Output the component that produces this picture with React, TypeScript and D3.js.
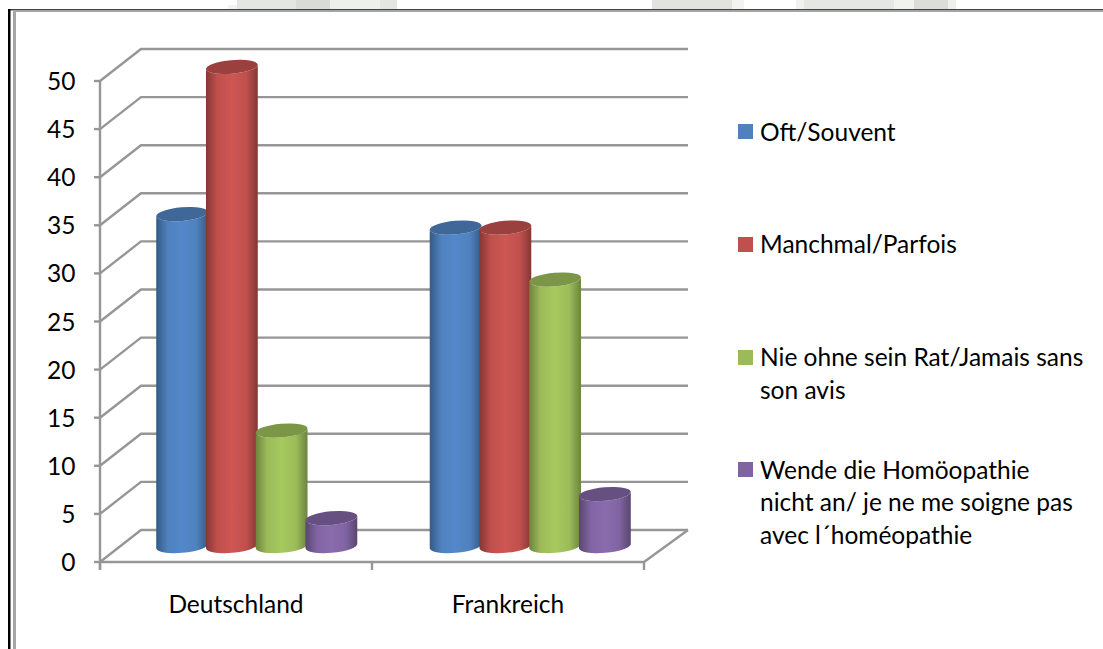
import React from "react";
import * as d3 from "d3";

const categories = ["Deutschland", "Frankreich"];
const seriesNames = ["Oft/Souvent", "Manchmal/Parfois", "Nie ohne sein Rat/Jamais sans son avis", "Wende die Homöopathie nicht an/ je ne me soigne pas avec l´homéopathie"];
const deutschland = [34.5, 49.8, 12, 2.9];
const frankreich = [33.1, 33.1, 27.7, 5.4];
const rowsByCategory = [deutschland, frankreich];
const yTicks = [0, 5, 10, 15, 20, 25, 30, 35, 40, 45, 50];
const baseColors = ["#4F81BD", "#C0504D", "#9BBB59", "#8064A2"];
const lightColors = ["#5288CB", "#CE5653", "#A6C95E", "#8A6CAE"];
const darkColors = ["#345A88", "#863634", "#6D843E", "#59466F"];
const topColors = ["#3F6797", "#9A403E", "#7C9647", "#665082"];
const legendLines = [["Oft/Souvent"], ["Manchmal/Parfois"], ["Nie ohne sein Rat/Jamais sans", "son avis"], ["Wende die Homöopathie", "nicht an/ je ne me soigne pas", "avec l´homéopathie"]];
const legendBaselines = [[140.5], [252.5], [365.5, 398.5], [478.5, 510.5, 543.5]];
const legendSwatchTops = [124, 237, 350, 462];
const smudges: [number, number, number, string][] = [
  [228, 9, 4, "#F3F4F1"], [237, 160, 9, "#E4E6E2"], [296, 34, 9, "#D9DCD6"], [330, 50, 9, "#EEF0EC"],
  [652, 80, 9, "#E2E3DE"], [732, 12, 9, "#F3F4F0"], [796, 8, 9, "#F1F2EE"], [804, 90, 9, "#E4E7E4"],
  [894, 22, 9, "#F1F3EE"], [914, 34, 9, "#DCDDD8"], [948, 8, 9, "#EFF0EC"],
];

const FONT = "Lato, 'Noto Sans', sans-serif";
const y = d3.scaleLinear().domain([0, 50]).range([562, 81]);
const x = d3.scaleBand().domain(categories).range([100, 644]);
const barGroups = d3.scaleBand().domain(categories).range([120, 667]);
const series = d3.scaleBand().domain(seriesNames).range([0, 199]);
const DX = 41, DY = -32, BASE_LIFT = 16;
const RX = 26, RY = 6.8, ROT = -5;

function cylinderPath(cx: number, top: number, bottom: number) {
  const t = (ROT * Math.PI) / 180;
  const ex = RX * Math.cos(t), ey = RX * Math.sin(t);
  return `M${cx - ex},${top - ey} L${cx - ex},${bottom - ey} A${RX},${RY} ${ROT} 0 0 ${cx + ex},${bottom + ey} L${cx + ex},${top + ey} A${RX},${RY} ${ROT} 0 1 ${cx - ex},${top - ey} Z`;
}

export default function App() {
  const right = x.range()[1];
  return (
    <svg width={1103} height={649} style={{ position: "absolute", left: 0, top: 0, background: "#fff" }}>
      <defs>
        {baseColors.map((c, i) => (
          <linearGradient key={c} id={`cyl${i}`} x1="0" x2="1" y1="0" y2="0">
            <stop offset="0" stopColor={darkColors[i]} />
            <stop offset="0.22" stopColor={c} />
            <stop offset="0.5" stopColor={lightColors[i]} />
            <stop offset="0.78" stopColor={c} />
            <stop offset="1" stopColor={darkColors[i]} />
          </linearGradient>
        ))}
      </defs>

      {smudges.map(([sx, w, h, col]) => (
        <rect key={sx} x={sx} y={9 - h} width={w} height={h} fill={col} />
      ))}

      <rect x={8} y={9} width={1095} height={1.5} fill="#444" />
      <rect x={13} y={10.5} width={1090} height={1.5} fill="#A6A6A6" />
      <rect x={8} y={9} width={2.5} height={640} fill="#000" />
      <rect x={13} y={10} width={3} height={639} fill="#A6A6A6" />

      <g stroke="#969696" strokeWidth={2.4} fill="none">
        {yTicks.map((t) => (
          <g key={t}>
            <line x1={94} x2={100} y1={y(t)} y2={y(t)} />
            <path d={`M${x.range()[0]},${y(t)} L${x.range()[0] + DX},${y(t) + DY} L${right + DX + 3},${y(t) + DY}`} />
          </g>
        ))}
        <line x1={100} x2={100} y1={y(50)} y2={570} />
        <path d={`M100,${y(0)} L${right},${y(0)} L${right + DX + 3},${y(0) + DY}`} />
        {[...categories.map((c) => x(c) as number), right].map((v) => (
          <line key={v} x1={v} x2={v} y1={y(0)} y2={570} />
        ))}
      </g>

      {categories.map((c, ci) =>
        seriesNames.map((s, si) => {
          const cx = (barGroups(c) as number) + barGroups.bandwidth() / 2 + (series(s) as number) + series.bandwidth() / 2 - 99.5;
          const bottom = y(0) - BASE_LIFT;
          const top = y(rowsByCategory[ci][si]) - BASE_LIFT;
          return (
            <g key={s}>
              <path d={cylinderPath(cx, top, bottom)} fill={`url(#cyl${si})`} />
              <ellipse cx={cx} cy={top} rx={RX} ry={RY} transform={`rotate(${ROT} ${cx} ${top})`} fill={topColors[si]} />
            </g>
          );
        })
      )}

      <g fontFamily={FONT} fontSize={24.5} fill="#000">
        {yTicks.map((t) => (
          <text key={t} x={75.5} y={y(t) + 9} textAnchor="end">{t}</text>
        ))}
        {categories.map((c) => (
          <text key={c} x={(x(c) as number) + x.bandwidth() / 2} y={612.5} textAnchor="middle">{c}</text>
        ))}
        {seriesNames.map((s, i) => (
          <g key={s}>
            <rect x={738} y={legendSwatchTops[i]} width={15} height={15} fill={baseColors[i]} />
            {legendLines[i].map((line, li) => (
              <text key={line} x={760} y={legendBaselines[i][li]}>{line}</text>
            ))}
          </g>
        ))}
      </g>
    </svg>
  );
}
